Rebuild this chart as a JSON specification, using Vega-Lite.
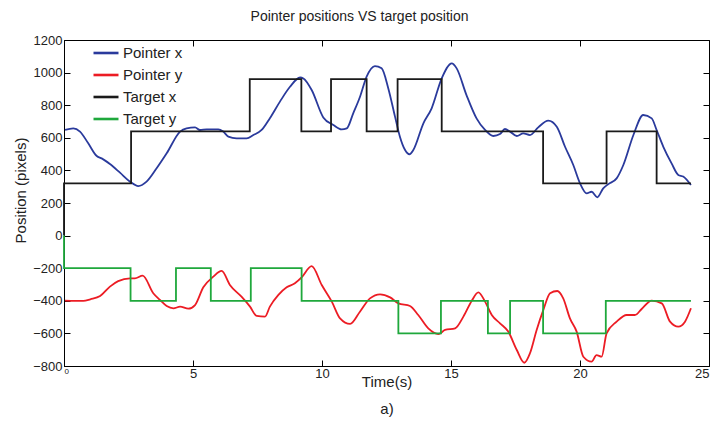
{
  "$schema": "https://vega.github.io/schema/vega-lite/v6.json",
  "width": 645,
  "height": 326,
  "autosize": {"type": "none"},
  "padding": {"left": 64, "top": 40, "right": 11, "bottom": 56},
  "background": "white",
  "title": {"text": "Pointer positions VS target position", "font": "Liberation Sans", "fontSize": 14, "fontWeight": "normal", "color": "#222", "dx": -27, "offset": 10},
  "config": {
    "view": {"stroke": "#000", "strokeWidth": 1},
    "axis": {"grid": false, "domainColor": "#000", "tickColor": "#000", "labelFont": "Liberation Sans", "labelFontSize": 13, "labelColor": "#222", "titleFont": "Liberation Sans", "titleFontWeight": "normal", "titleColor": "#222", "titleFontSize": 15},
    "legend": {"labelFont": "Liberation Sans", "labelFontSize": 15, "labelColor": "#222"}
  },
  "datasets": {
    "pointer": [
      {"t": 0.04, "v": 648, "s": "Pointer x"}, {"t": 0.36, "v": 658, "s": "Pointer x"}, {"t": 0.62, "v": 638, "s": "Pointer x"}, {"t": 0.94, "v": 566, "s": "Pointer x"}, {"t": 1.27, "v": 488, "s": "Pointer x"}, {"t": 1.46, "v": 474, "s": "Pointer x"}, {"t": 1.78, "v": 439, "s": "Pointer x"}, {"t": 2.17, "v": 386, "s": "Pointer x"}, {"t": 2.56, "v": 331, "s": "Pointer x"}, {"t": 2.88, "v": 304, "s": "Pointer x"}, {"t": 3.2, "v": 331, "s": "Pointer x"}, {"t": 3.59, "v": 413, "s": "Pointer x"}, {"t": 3.98, "v": 505, "s": "Pointer x"}, {"t": 4.5, "v": 638, "s": "Pointer x"}, {"t": 4.75, "v": 658, "s": "Pointer x"}, {"t": 5.08, "v": 664, "s": "Pointer x"}, {"t": 5.27, "v": 648, "s": "Pointer x"}, {"t": 5.53, "v": 652, "s": "Pointer x"}, {"t": 5.98, "v": 652, "s": "Pointer x"}, {"t": 6.17, "v": 638, "s": "Pointer x"}, {"t": 6.37, "v": 607, "s": "Pointer x"}, {"t": 6.69, "v": 597, "s": "Pointer x"}, {"t": 7.08, "v": 597, "s": "Pointer x"}, {"t": 7.34, "v": 617, "s": "Pointer x"}, {"t": 7.66, "v": 648, "s": "Pointer x"}, {"t": 7.98, "v": 720, "s": "Pointer x"}, {"t": 8.37, "v": 822, "s": "Pointer x"}, {"t": 8.76, "v": 913, "s": "Pointer x"}, {"t": 9.15, "v": 970, "s": "Pointer x"}, {"t": 9.28, "v": 964, "s": "Pointer x"}, {"t": 9.6, "v": 893, "s": "Pointer x"}, {"t": 10.05, "v": 725, "s": "Pointer x"}, {"t": 10.44, "v": 679, "s": "Pointer x"}, {"t": 10.76, "v": 652, "s": "Pointer x"}, {"t": 10.96, "v": 658, "s": "Pointer x"}, {"t": 11.21, "v": 750, "s": "Pointer x"}, {"t": 11.47, "v": 850, "s": "Pointer x"}, {"t": 11.73, "v": 975, "s": "Pointer x"}, {"t": 12.05, "v": 1040, "s": "Pointer x"}, {"t": 12.31, "v": 1026, "s": "Pointer x"}, {"t": 12.57, "v": 903, "s": "Pointer x"}, {"t": 12.83, "v": 730, "s": "Pointer x"}, {"t": 13.02, "v": 607, "s": "Pointer x"}, {"t": 13.22, "v": 525, "s": "Pointer x"}, {"t": 13.39, "v": 499, "s": "Pointer x"}, {"t": 13.54, "v": 525, "s": "Pointer x"}, {"t": 13.93, "v": 689, "s": "Pointer x"}, {"t": 14.25, "v": 781, "s": "Pointer x"}, {"t": 14.64, "v": 965, "s": "Pointer x"}, {"t": 15.03, "v": 1057, "s": "Pointer x"}, {"t": 15.22, "v": 1026, "s": "Pointer x"}, {"t": 15.6, "v": 862, "s": "Pointer x"}, {"t": 15.99, "v": 719, "s": "Pointer x"}, {"t": 16.32, "v": 648, "s": "Pointer x"}, {"t": 16.64, "v": 611, "s": "Pointer x"}, {"t": 16.9, "v": 623, "s": "Pointer x"}, {"t": 17.09, "v": 654, "s": "Pointer x"}, {"t": 17.29, "v": 638, "s": "Pointer x"}, {"t": 17.55, "v": 611, "s": "Pointer x"}, {"t": 17.8, "v": 627, "s": "Pointer x"}, {"t": 18.06, "v": 617, "s": "Pointer x"}, {"t": 18.38, "v": 664, "s": "Pointer x"}, {"t": 18.77, "v": 705, "s": "Pointer x"}, {"t": 19.1, "v": 668, "s": "Pointer x"}, {"t": 19.42, "v": 545, "s": "Pointer x"}, {"t": 19.74, "v": 433, "s": "Pointer x"}, {"t": 20.0, "v": 321, "s": "Pointer x"}, {"t": 20.26, "v": 259, "s": "Pointer x"}, {"t": 20.45, "v": 269, "s": "Pointer x"}, {"t": 20.67, "v": 235, "s": "Pointer x"}, {"t": 20.9, "v": 290, "s": "Pointer x"}, {"t": 21.1, "v": 316, "s": "Pointer x"}, {"t": 21.42, "v": 351, "s": "Pointer x"}, {"t": 21.68, "v": 433, "s": "Pointer x"}, {"t": 22.07, "v": 617, "s": "Pointer x"}, {"t": 22.45, "v": 740, "s": "Pointer x"}, {"t": 22.78, "v": 719, "s": "Pointer x"}, {"t": 22.97, "v": 648, "s": "Pointer x"}, {"t": 23.23, "v": 545, "s": "Pointer x"}, {"t": 23.55, "v": 443, "s": "Pointer x"}, {"t": 23.81, "v": 372, "s": "Pointer x"}, {"t": 24.0, "v": 362, "s": "Pointer x"}, {"t": 24.3, "v": 310, "s": "Pointer x"},
      {"t": 0.04, "v": -399, "s": "Pointer y"}, {"t": 0.75, "v": -401, "s": "Pointer y"}, {"t": 1.02, "v": -391, "s": "Pointer y"}, {"t": 1.4, "v": -371, "s": "Pointer y"}, {"t": 1.78, "v": -313, "s": "Pointer y"}, {"t": 2.1, "v": -279, "s": "Pointer y"}, {"t": 2.56, "v": -262, "s": "Pointer y"}, {"t": 2.75, "v": -262, "s": "Pointer y"}, {"t": 3.05, "v": -246, "s": "Pointer y"}, {"t": 3.46, "v": -354, "s": "Pointer y"}, {"t": 3.72, "v": -395, "s": "Pointer y"}, {"t": 3.98, "v": -432, "s": "Pointer y"}, {"t": 4.24, "v": -446, "s": "Pointer y"}, {"t": 4.5, "v": -436, "s": "Pointer y"}, {"t": 4.82, "v": -448, "s": "Pointer y"}, {"t": 5.08, "v": -426, "s": "Pointer y"}, {"t": 5.4, "v": -317, "s": "Pointer y"}, {"t": 5.79, "v": -252, "s": "Pointer y"}, {"t": 6.11, "v": -217, "s": "Pointer y"}, {"t": 6.43, "v": -303, "s": "Pointer y"}, {"t": 6.88, "v": -375, "s": "Pointer y"}, {"t": 7.21, "v": -436, "s": "Pointer y"}, {"t": 7.47, "v": -493, "s": "Pointer y"}, {"t": 7.79, "v": -497, "s": "Pointer y"}, {"t": 7.98, "v": -436, "s": "Pointer y"}, {"t": 8.31, "v": -364, "s": "Pointer y"}, {"t": 8.63, "v": -317, "s": "Pointer y"}, {"t": 8.95, "v": -293, "s": "Pointer y"}, {"t": 9.21, "v": -256, "s": "Pointer y"}, {"t": 9.6, "v": -187, "s": "Pointer y"}, {"t": 9.99, "v": -303, "s": "Pointer y"}, {"t": 10.38, "v": -405, "s": "Pointer y"}, {"t": 10.7, "v": -508, "s": "Pointer y"}, {"t": 11.09, "v": -542, "s": "Pointer y"}, {"t": 11.47, "v": -467, "s": "Pointer y"}, {"t": 11.86, "v": -385, "s": "Pointer y"}, {"t": 12.25, "v": -360, "s": "Pointer y"}, {"t": 12.64, "v": -379, "s": "Pointer y"}, {"t": 12.96, "v": -416, "s": "Pointer y"}, {"t": 13.41, "v": -432, "s": "Pointer y"}, {"t": 13.73, "v": -487, "s": "Pointer y"}, {"t": 14.12, "v": -569, "s": "Pointer y"}, {"t": 14.51, "v": -604, "s": "Pointer y"}, {"t": 14.77, "v": -579, "s": "Pointer y"}, {"t": 15.16, "v": -569, "s": "Pointer y"}, {"t": 15.48, "v": -497, "s": "Pointer y"}, {"t": 15.8, "v": -401, "s": "Pointer y"}, {"t": 16.06, "v": -348, "s": "Pointer y"}, {"t": 16.32, "v": -405, "s": "Pointer y"}, {"t": 16.58, "v": -487, "s": "Pointer y"}, {"t": 16.9, "v": -538, "s": "Pointer y"}, {"t": 17.22, "v": -589, "s": "Pointer y"}, {"t": 17.55, "v": -702, "s": "Pointer y"}, {"t": 17.84, "v": -780, "s": "Pointer y"}, {"t": 18.06, "v": -722, "s": "Pointer y"}, {"t": 18.32, "v": -579, "s": "Pointer y"}, {"t": 18.58, "v": -456, "s": "Pointer y"}, {"t": 18.84, "v": -354, "s": "Pointer y"}, {"t": 19.12, "v": -340, "s": "Pointer y"}, {"t": 19.35, "v": -385, "s": "Pointer y"}, {"t": 19.61, "v": -508, "s": "Pointer y"}, {"t": 19.87, "v": -589, "s": "Pointer y"}, {"t": 20.13, "v": -743, "s": "Pointer y"}, {"t": 20.45, "v": -773, "s": "Pointer y"}, {"t": 20.64, "v": -733, "s": "Pointer y"}, {"t": 20.84, "v": -743, "s": "Pointer y"}, {"t": 21.03, "v": -600, "s": "Pointer y"}, {"t": 21.42, "v": -528, "s": "Pointer y"}, {"t": 21.81, "v": -487, "s": "Pointer y"}, {"t": 22.13, "v": -487, "s": "Pointer y"}, {"t": 22.39, "v": -450, "s": "Pointer y"}, {"t": 22.78, "v": -399, "s": "Pointer y"}, {"t": 23.17, "v": -416, "s": "Pointer y"}, {"t": 23.49, "v": -528, "s": "Pointer y"}, {"t": 23.81, "v": -559, "s": "Pointer y"}, {"t": 24.07, "v": -528, "s": "Pointer y"}, {"t": 24.3, "v": -446, "s": "Pointer y"}
    ],
    "target": [
      {"i": 0, "t": 0, "v": 0, "s": "Target x"}, {"i": 1, "t": 0, "v": 320, "s": "Target x"}, {"i": 2, "t": 2.6, "v": 640, "s": "Target x"}, {"i": 3, "t": 7.2, "v": 960, "s": "Target x"}, {"i": 4, "t": 9.2, "v": 640, "s": "Target x"}, {"i": 5, "t": 10.35, "v": 960, "s": "Target x"}, {"i": 6, "t": 11.73, "v": 640, "s": "Target x"}, {"i": 7, "t": 12.93, "v": 960, "s": "Target x"}, {"i": 8, "t": 14.64, "v": 640, "s": "Target x"}, {"i": 9, "t": 18.57, "v": 320, "s": "Target x"}, {"i": 10, "t": 21.03, "v": 640, "s": "Target x"}, {"i": 11, "t": 22.97, "v": 320, "s": "Target x"}, {"i": 12, "t": 24.3, "v": 320, "s": "Target x"},
      {"i": 0, "t": 0, "v": 0, "s": "Target y"}, {"i": 1, "t": 0, "v": -200, "s": "Target y"}, {"i": 2, "t": 2.58, "v": -400, "s": "Target y"}, {"i": 3, "t": 4.34, "v": -200, "s": "Target y"}, {"i": 4, "t": 5.69, "v": -400, "s": "Target y"}, {"i": 5, "t": 7.24, "v": -200, "s": "Target y"}, {"i": 6, "t": 9.21, "v": -400, "s": "Target y"}, {"i": 7, "t": 12.96, "v": -600, "s": "Target y"}, {"i": 8, "t": 14.61, "v": -400, "s": "Target y"}, {"i": 9, "t": 16.43, "v": -600, "s": "Target y"}, {"i": 10, "t": 17.29, "v": -400, "s": "Target y"}, {"i": 11, "t": 18.57, "v": -600, "s": "Target y"}, {"i": 12, "t": 21.0, "v": -400, "s": "Target y"}, {"i": 13, "t": 24.3, "v": -400, "s": "Target y"}
    ]
  },
  "layer": [
    {
      "data": {"name": "pointer"},
      "mark": {"type": "line", "interpolate": "monotone", "strokeWidth": 1.8},
      "encoding": {
        "x": {"field": "t", "type": "quantitative", "scale": {"domain": [0, 25], "nice": false, "zero": false},
          "axis": {"orient": "bottom", "values": [0, 5, 10, 15, 20, 25], "format": "d", "tickSize": -6, "labelPadding": 7, "labelFontSize": {"condition": {"test": "datum.value === 0", "value": 8}, "value": 13}, "title": ["Time(s)", "a)"], "titleLineHeight": 27, "titlePadding": -6}},
        "y": {"field": "v", "type": "quantitative", "scale": {"domain": [-800, 1200], "nice": false, "zero": false},
          "axis": {"orient": "left", "values": [-800, -600, -400, -200, 0, 200, 400, 600, 800, 1000, 1200], "format": "d", "tickSize": -6, "labelPadding": 8, "title": "Position (pixels)", "titlePadding": 4, "titleY": 150}},
        "color": {"field": "s", "type": "nominal", "sort": ["Pointer x", "Pointer y", "Target x", "Target y"],
          "scale": {"domain": ["Pointer x", "Pointer y", "Target x", "Target y"], "range": ["#2a3a9c", "#ec1c24", "#1a1a1a", "#1fa83c"]},
          "legend": {"title": null, "orient": "none", "legendX": 28, "legendY": -1, "symbolType": "stroke", "symbolSize": 625, "symbolStrokeWidth": 2.6, "labelOffset": 3, "rowPadding": -4, "padding": 0}}
      }
    },
    {
      "data": {"name": "target"},
      "mark": {"type": "line", "interpolate": "step-after", "strokeWidth": 1.8},
      "encoding": {
        "x": {"field": "t", "type": "quantitative", "axis": {"orient": "top", "values": [0, 5, 10, 15, 20, 25], "tickSize": -6, "labels": false, "domain": false, "title": null}},
        "y": {"field": "v", "type": "quantitative", "axis": {"orient": "right", "values": [-800, -600, -400, -200, 0, 200, 400, 600, 800, 1000, 1200], "tickSize": -6, "labels": false, "domain": false, "title": null}},
        "color": {"field": "s", "type": "nominal"},
        "order": {"field": "i", "type": "quantitative"}
      }
    }
  ],
  "resolve": {"axis": {"x": "independent", "y": "independent"}}
}
